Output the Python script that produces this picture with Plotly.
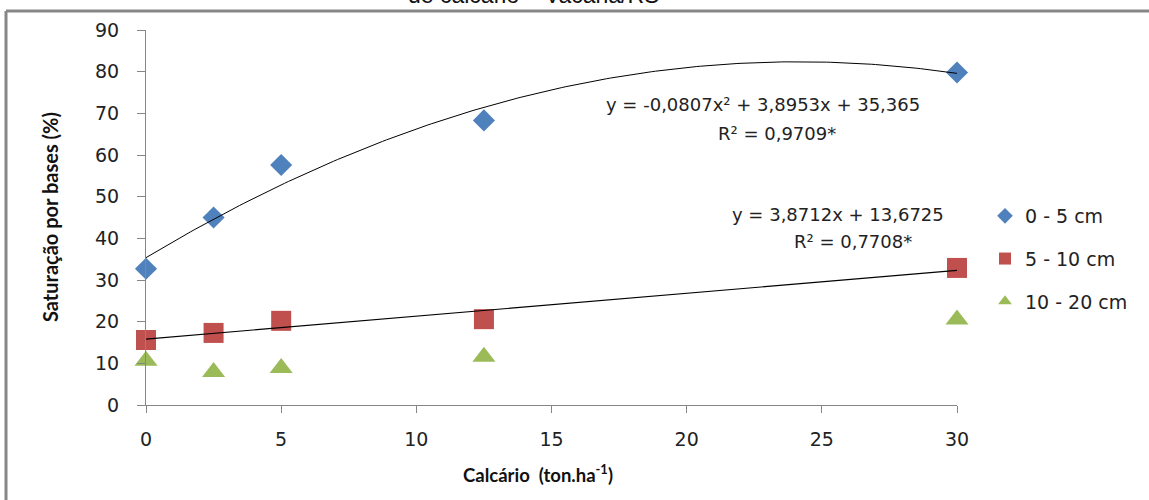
import numpy as np
import plotly.graph_objects as go

# Data
doses = [0, 2.5, 5, 12.5, 30]
s_0_5 = [32.7, 45.0, 57.6, 68.3, 79.8]
s_5_10 = [15.6, 17.3, 20.2, 20.6, 32.9]
s_10_20 = [10.6, 7.9, 8.9, 11.6, 20.5]
series_names = ["0 - 5 cm", "5 - 10 cm", "10 - 20 cm"]
series_colors = ["#4F81BD", "#C0504D", "#9BBB59"]
quad_coef = [-0.0807, 3.8953, 35.365]
eq1 = ["y = -0,0807x² + 3,8953x + 35,365", "R² = 0,9709*"]
eq2 = ["y = 3,8712x + 13,6725", "R² = 0,7708*"]
x_ticks = [0, 5, 10, 15, 20, 25, 30]
y_ticks = [0, 10, 20, 30, 40, 50, 60, 70, 80, 90]
x_title = "<b>Calcário  (ton.ha<sup>-1</sup>)</b>"
y_title = "<b>Saturação por bases (%)</b>"

FONT = "DejaVu Sans, Open Sans, sans-serif"
BFONT = "Lato, Open Sans, sans-serif"

fig = go.Figure()

symbols = ["diamond", "square", "triangle-up"]
sizes = [17, 20, 20]
for i, (ys, name) in enumerate(zip([s_0_5, s_5_10, s_10_20], series_names)):
    fig.add_trace(go.Scatter(
        x=doses, y=ys, mode="markers", name=name,
        legendgroup=name, cliponaxis=False,
        marker=dict(symbol=symbols[i], size=sizes[i], color=series_colors[i],
                    line=dict(width=0)),
    ))

# trendlines
xf = np.linspace(0, 30, 200)
yq = np.polyval(quad_coef, xf)
fig.add_trace(go.Scatter(x=xf, y=yq, mode="lines", showlegend=False, cliponaxis=False,
                         line=dict(color="black", width=1), hoverinfo="skip"))
lin = np.polyfit(doses, s_5_10, 1)
xl = np.array([0, 30])
fig.add_trace(go.Scatter(x=xl, y=np.polyval(lin, xl), mode="lines", showlegend=False,
                         cliponaxis=False,
                         line=dict(color="black", width=1.2), hoverinfo="skip"))

# plot area: px 146..957 horizontally, 30..405 vertically
L, R, T, B = 146, 192, 30, 95
W, H = 1149 - L - R, 500 - T - B


def px_x(p):
    return (p - L) / W


def px_y(p):
    return (500 - B - p) / H


annotations = []
for txt, cx, cy in [(eq1[0], 763, 105), (eq1[1], 777, 133),
                    (eq2[0], 838, 214), (eq2[1], 853, 241)]:
    annotations.append(dict(text=txt, xref="paper", yref="paper",
                            x=px_x(cx), y=px_y(cy), xanchor="center", yanchor="middle",
                            showarrow=False, font=dict(family=FONT, size=18, color="#222")))
# axis titles
annotations.append(dict(text=x_title, xref="paper", yref="paper",
                        x=px_x(538), y=px_y(473), xanchor="center", yanchor="middle",
                        showarrow=False, font=dict(family=BFONT, size=18.5, color="#111")))
annotations.append(dict(text=y_title, xref="paper", yref="paper", textangle=-90,
                        x=px_x(50), y=px_y(217), xanchor="center", yanchor="middle",
                        showarrow=False, font=dict(family=BFONT, size=20, color="#111")))
# cut-off title line at the very top
annotations.append(dict(text="de calcário – Vacaria/RS", xref="paper", yref="paper",
                        x=px_x(533), y=px_y(10), xanchor="center", yanchor="bottom",
                        showarrow=False,
                        font=dict(family="Liberation Sans, Arial, sans-serif", size=23, color="#111")))

shapes = [
    dict(type="line", xref="paper", yref="paper", x0=px_x(6), x1=px_x(1160),
         y0=px_y(11), y1=px_y(11), line=dict(color="#878787", width=3)),
    dict(type="line", xref="paper", yref="paper", x0=px_x(6), x1=px_x(6),
         y0=px_y(11), y1=px_y(510), line=dict(color="#878787", width=3)),
]

fig.update_layout(
    width=1149, height=500,
    margin=dict(l=L, r=R, t=T, b=B),
    plot_bgcolor="white", paper_bgcolor="white",
    font=dict(family=FONT, size=19, color="#222"),
    annotations=annotations, shapes=shapes,
    legend=dict(x=px_x(985), y=px_y(197), xanchor="left", yanchor="top",
                traceorder="grouped", tracegroupgap=15, itemsizing="constant",
                font=dict(family=FONT, size=19, color="#222"),
                bgcolor="rgba(0,0,0,0)"),
    xaxis=dict(range=[0, 30], tickvals=x_ticks, showgrid=False, zeroline=False,
               showline=True, linecolor="#868686", linewidth=1,
               ticks="outside", ticklen=7, tickcolor="#868686",
               ticklabelstandoff=10,
               tickfont=dict(family=FONT, size=19, color="#222")),
    yaxis=dict(range=[0, 90], tickvals=y_ticks, showgrid=False, zeroline=False,
               showline=True, linecolor="#868686", linewidth=1,
               ticks="outside", ticklen=8, tickcolor="#868686",
               ticklabelstandoff=14,
               tickfont=dict(family=FONT, size=19, color="#222")),
)

fig.write_html("out.html", config={"displayModeBar": False},
               post_script="document.body.style.margin='0';")
